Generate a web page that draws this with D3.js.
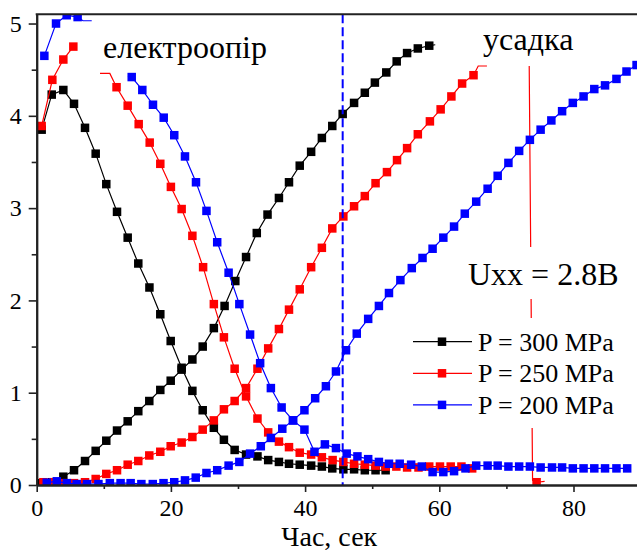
<!DOCTYPE html>
<html>
<head>
<meta charset="utf-8">
<script src="https://cdn.jsdelivr.net/npm/d3@7"></script>
<style>
  body { margin: 0; background: #fff; }
</style>
</head>
<body>
<svg id="chart" width="637" height="551"></svg>
<script>
// ---- data ----
// P = 300 MPa
var blackResist = [[0.74,3.85],[2.24,4.23],[3.97,4.28],[5.56,4.13],[7.2,3.87],[8.79,3.59],[10.37,3.26],[11.97,2.96],[13.56,2.68],[15.14,2.40],[16.8,2.14],[18.42,1.85],[19.97,1.56],[21.6,1.27],[23.2,1.02],[24.74,0.81],[26.4,0.62],[27.9,0.49],[29.5,0.38],[31.2,0.33],[32.9,0.31],[34.5,0.27],[36.1,0.25],[37.6,0.23],[39.2,0.22],[40.9,0.21],[42.5,0.20],[44.05,0.18],[45.7,0.17],[47.3,0.17],[48.9,0.16],[50.5,0.16],[52.0,0.16]];
var blackShrink = [[0.74,0.02],[2.3,0.03],[3.97,0.09],[5.56,0.16],[7.2,0.26],[8.79,0.37],[10.37,0.48],[11.97,0.59],[13.56,0.69],[15.14,0.80],[16.78,0.91],[18.42,1.03],[19.97,1.13],[21.6,1.25],[23.2,1.36],[24.74,1.50],[26.4,1.70],[28.0,1.94],[29.6,2.21],[31.2,2.47],[32.8,2.73],[34.4,2.93],[36.1,3.11],[37.6,3.28],[39.2,3.46],[40.9,3.61],[42.5,3.76],[44.05,3.89],[45.6,4.02],[47.3,4.14],[48.9,4.25],[50.4,4.36],[52.1,4.47],[53.65,4.59],[55.2,4.68],[56.8,4.73],[58.5,4.76]];
var blackShrinkTail = [[59.4,4.77]];

// P = 250 MPa
var redRise = [[0.74,3.89],[2.33,4.39],[3.97,4.61],[5.46,4.75]];
var redResistLead = [[9.43,4.46],[10.9,4.46]];
var redResist = [[11.9,4.31],[13.56,4.11],[15.2,3.91],[16.84,3.71],[18.42,3.48],[20.0,3.23],[21.6,2.99],[23.2,2.70],[24.8,2.36],[26.4,1.96],[27.9,1.60],[29.5,1.26],[31.2,0.96],[32.9,0.72],[34.5,0.57],[36.1,0.47],[37.6,0.41],[39.2,0.35],[40.9,0.33],[42.5,0.30],[44.1,0.27],[45.7,0.25],[47.3,0.23],[48.9,0.22],[50.5,0.21],[52.0,0.20],[53.6,0.20],[55.2,0.19],[56.9,0.19],[58.5,0.20],[60.1,0.20],[61.7,0.20],[63.3,0.20],[64.9,0.18]];
var redShrink = [[1.0,0.03],[2.5,0.03],[4.0,0.02],[5.56,0.02],[7.2,0.03],[8.79,0.065],[10.37,0.12],[11.97,0.16],[13.56,0.22],[15.14,0.26],[16.78,0.32],[18.42,0.36],[19.97,0.42],[21.6,0.46],[23.2,0.52],[24.74,0.60],[26.4,0.70],[27.9,0.82],[29.5,0.91],[31.2,1.05],[32.9,1.26],[34.5,1.48],[36.1,1.69],[37.6,1.90],[39.2,2.12],[40.9,2.36],[42.5,2.57],[44.05,2.78],[45.7,2.91],[47.3,3.02],[48.9,3.13],[50.5,3.27],[52.2,3.39],[53.7,3.52],[55.2,3.65],[56.8,3.80],[58.6,3.94],[60.2,4.07],[61.8,4.21],[63.4,4.35],[65.1,4.44]];
var redShrinkTail = [[65.8,4.54],[67.1,4.54]];
var redDropLine = [[73.4,4.54],[73.9,0.05],[74.5,0.03],[75.7,0.04]];
var redDrop = [[74.5,0.03]];

// P = 200 MPa
var blueRise = [[1.14,4.65],[2.88,5.00],[4.47,5.09],[6.1,5.07]];
var blueRiseTail = [[6.9,5.03],[8.2,5.03]];
var blueResistLead = [[13.6,4.43]];
var blueResist = [[14.16,4.42],[15.74,4.28],[17.33,4.12],[18.93,3.98],[20.5,3.79],[22.1,3.56],[23.74,3.28],[25.3,2.97],[26.9,2.63],[28.6,2.30],[30.2,1.96],[31.8,1.63],[33.3,1.32],[34.9,1.05],[36.5,0.84],[38.2,0.70],[39.9,0.60],[41.4,0.36],[42.95,0.44],[44.6,0.40],[46.2,0.34],[47.8,0.31],[49.4,0.28],[51.0,0.25],[52.5,0.23],[54.1,0.23],[55.8,0.22],[57.4,0.20],[59.0,0.14],[60.6,0.14],[62.2,0.15],[63.9,0.18],[65.5,0.21],[67.2,0.21],[68.7,0.21],[70.3,0.20],[71.9,0.20],[73.5,0.20],[75.1,0.19],[76.8,0.19],[78.3,0.19],[79.9,0.18],[81.5,0.18],[83.1,0.18],[84.7,0.18],[86.4,0.18],[88.0,0.18]];
var blueShrink = [[1.5,0.025],[3.0,0.04],[4.5,0.02],[5.96,0.01],[7.5,0.01],[9.2,0.01],[10.9,0.02],[12.5,0.02],[14.0,0.02],[15.6,0.01],[17.3,0.01],[18.9,0.02],[20.5,0.03],[22.1,0.05],[23.7,0.08],[25.3,0.13],[26.9,0.16],[28.6,0.21],[30.2,0.25],[31.8,0.34],[33.4,0.42],[34.9,0.51],[36.6,0.61],[38.2,0.70],[39.9,0.81],[41.5,0.94],[43.1,1.07],[44.6,1.23],[46.1,1.46],[47.7,1.64],[49.4,1.80],[51.0,1.94],[52.5,2.08],[54.2,2.22],[55.9,2.35],[57.5,2.46],[59.0,2.56],[60.6,2.68],[62.2,2.80],[63.8,2.94],[65.5,3.07],[67.2,3.21],[68.7,3.35],[70.3,3.49],[71.9,3.62],[73.5,3.74],[75.1,3.85],[76.7,3.95],[78.3,4.05],[79.9,4.14],[81.5,4.21],[83.1,4.29],[84.7,4.33],[86.4,4.40],[87.9,4.48],[89.4,4.55]];

var xMajor = [0, 20, 40, 60, 80];
var xMinor = [10, 30, 50, 70, 90];
var yMajor = [0, 1, 2, 3, 4, 5];
var yMinor = [0.5, 1.5, 2.5, 3.5, 4.5];
var legendLabels = ['P = 300 MPa', 'P = 250 MPa', 'P = 200 MPa'];
var seriesColors = ['#000000', '#ff0000', '#0000ff'];
var dashX = 45.6;

var serif = "'Liberation Serif', 'DejaVu Serif', 'Times New Roman', Times, serif";

// ---- scales ----
var x = d3.scaleLinear().domain([0, 90]).range([36.7, 640.6]);
var y = d3.scaleLinear().domain([0, 5.1]).range([485, 14.3]);

var svg = d3.select('#chart');

svg.append('defs').append('clipPath').attr('id', 'plot-clip')
  .append('rect')
  .attr('x', x(0)).attr('y', y(5.1))
  .attr('width', x(90) - x(0)).attr('height', y(0) - y(5.1));

var plot = svg.append('g').attr('clip-path', 'url(#plot-clip)');

var line = d3.line().x(function(d) { return x(d[0]); }).y(function(d) { return y(d[1]); });

// each curve: line points, marker points, colour index
var curves = [
  { line: blackResist, marks: blackResist, c: 0 },
  { line: blackShrink.concat(blackShrinkTail), marks: blackShrink, c: 0 },
  { line: redRise, marks: redRise, c: 1 },
  { line: redResistLead.concat(redResist), marks: redResist, c: 1 },
  { line: redShrink.concat(redShrinkTail), marks: redShrink, c: 1 },
  { line: redDropLine, marks: redDrop, c: 1 },
  { line: blueRise.concat(blueRiseTail), marks: blueRise, c: 2 },
  { line: blueResistLead.concat(blueResist), marks: blueResist, c: 2 },
  { line: blueShrink, marks: blueShrink, c: 2 }
];

var ms = 8.5;
curves.forEach(function(s) {
  plot.append('path')
    .datum(s.line)
    .attr('d', line)
    .attr('fill', 'none')
    .attr('stroke', seriesColors[s.c])
    .attr('stroke-width', 1.2);
  plot.selectAll(null)
    .data(s.marks)
    .enter()
    .append('rect')
    .attr('x', function(d) { return x(d[0]) - ms / 2; })
    .attr('y', function(d) { return y(d[1]) - ms / 2; })
    .attr('width', ms).attr('height', ms)
    .attr('fill', seriesColors[s.c]);
});

// dashed marker line
plot.append('line')
  .attr('x1', x(dashX)).attr('x2', x(dashX))
  .attr('y1', y(5.1)).attr('y2', y(0))
  .attr('stroke', '#0000ff')
  .attr('stroke-width', 2)
  .attr('stroke-dasharray', '9,4');

// ---- axes ----
function styleAxis(g) {
  g.attr('font-family', serif);
  g.select('.domain').attr('stroke', '#222').attr('stroke-width', 2);
  g.selectAll('.tick line').attr('stroke', '#222').attr('stroke-width', 1.6);
  g.selectAll('.tick text')
    .attr('font-family', serif)
    .style('font-family', serif)
    .style('font-size', '24px')
    .attr('fill', '#000');
}

svg.append('g')
  .attr('transform', 'translate(0,' + y(0) + ')')
  .call(d3.axisBottom(x).tickValues(xMinor).tickSize(4).tickSizeOuter(0).tickFormat(''))
  .call(styleAxis);
svg.append('g')
  .attr('transform', 'translate(0,' + y(0) + ')')
  .call(d3.axisBottom(x).tickValues(xMajor).tickSize(7).tickSizeOuter(0).tickPadding(7).tickFormat(d3.format('d')))
  .call(styleAxis);

svg.append('g')
  .attr('transform', 'translate(' + x(0) + ',0)')
  .call(d3.axisLeft(y).tickValues(yMinor).tickSize(5).tickSizeOuter(0).tickFormat(''))
  .call(styleAxis);
svg.append('g')
  .attr('transform', 'translate(' + x(0) + ',0)')
  .call(d3.axisLeft(y).tickValues(yMajor).tickSize(8).tickSizeOuter(0).tickPadding(7).tickFormat(d3.format('d')))
  .call(styleAxis);

// top frame
svg.append('line')
  .attr('x1', x(0) - 1).attr('x2', x(90))
  .attr('y1', y(5.1)).attr('y2', y(5.1))
  .attr('stroke', '#222').attr('stroke-width', 2);

function label(px, py, size, txt) {
  return svg.append('text')
    .attr('x', px).attr('y', py)
    .style('font-family', serif)
    .style('font-size', size + 'px')
    .attr('fill', '#000')
    .text(txt);
}

label(x(43.6), 546, 28, 'Час, сек').attr('text-anchor', 'middle');

// ---- annotations ----
label(103, 58, 32, 'електроопір');
label(483, 50, 32, 'усадка');

svg.append('rect')
  .attr('x', 462).attr('y', 247).attr('width', 160).attr('height', 52)
  .attr('fill', '#fff');
label(468, 284.5, 32, 'Uxx = 2.8B');

// ---- legend ----
var legend = svg.append('g');
legend.append('rect')
  .attr('x', 408).attr('y', 318).attr('width', 229).attr('height', 110)
  .attr('fill', '#fff');
var rows = legend.selectAll('g.row')
  .data(legendLabels)
  .enter()
  .append('g')
  .attr('class', 'row')
  .attr('transform', function(d, i) { return 'translate(0,' + (341.7 + i * 31.6) + ')'; });
rows.append('line')
  .attr('x1', 413).attr('x2', 472)
  .attr('stroke', function(d, i) { return seriesColors[i]; })
  .attr('stroke-width', 1.2);
rows.append('rect')
  .attr('x', 442 - ms / 2).attr('y', -ms / 2)
  .attr('width', ms).attr('height', ms)
  .attr('fill', function(d, i) { return seriesColors[i]; });
rows.append('text')
  .attr('x', 478).attr('dy', '0.34em')
  .style('font-family', serif)
  .style('font-size', '26px')
  .attr('fill', '#000')
  .text(function(d) { return d; });
</script>
</body>
</html>
